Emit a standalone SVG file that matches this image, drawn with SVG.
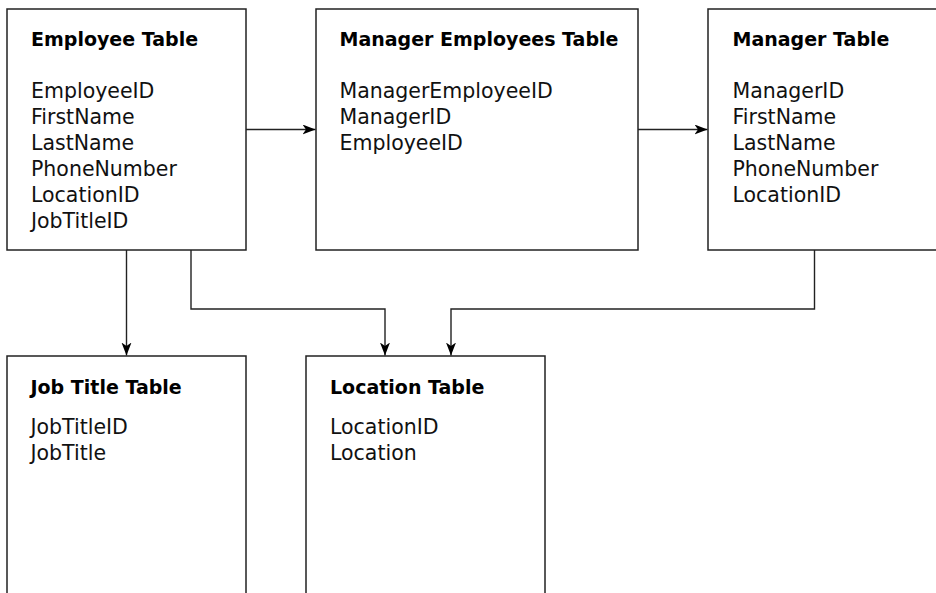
<svg xmlns="http://www.w3.org/2000/svg" width="936" height="593" viewBox="0 0 936 593">
<style>
.box{fill:#fff;stroke:#222;stroke-width:1.5}
.title{font-family:"DejaVu Sans",sans-serif;font-weight:bold;font-size:19px;fill:#000}
.field{font-family:"DejaVu Sans",sans-serif;font-size:20.5px;fill:#111}
.conn{fill:none;stroke:#222;stroke-width:1.4}
</style>
<defs>
<marker id="arr" markerUnits="userSpaceOnUse" markerWidth="14" markerHeight="12" refX="13" refY="5" orient="auto">
<path d="M0,0 L13,5 L0,10 L3.5,5 z" fill="#000"/>
</marker>
</defs>
<rect width="936" height="593" fill="#fff"/>
<g id="employee-table">
<rect class="box" x="7" y="9" width="239" height="241"/>
<text class="title" x="31" y="46">Employee Table</text>
<text class="field" x="31" y="97.5">EmployeeID</text>
<text class="field" x="31" y="123.5">FirstName</text>
<text class="field" x="31" y="149.5">LastName</text>
<text class="field" x="31" y="175.5">PhoneNumber</text>
<text class="field" x="31" y="201.5">LocationID</text>
<text class="field" x="31" y="227.5">JobTitleID</text>
</g>
<g id="manager-employees-table">
<rect class="box" x="316" y="9" width="322" height="241"/>
<text class="title" x="339.5" y="46">Manager Employees Table</text>
<text class="field" x="339.5" y="97.5">ManagerEmployeeID</text>
<text class="field" x="339.5" y="123.5">ManagerID</text>
<text class="field" x="339.5" y="149.5">EmployeeID</text>
</g>
<g id="manager-table">
<rect class="box" x="708" y="9" width="240" height="241"/>
<text class="title" x="732.5" y="46">Manager Table</text>
<text class="field" x="732.5" y="97.5">ManagerID</text>
<text class="field" x="732.5" y="123.5">FirstName</text>
<text class="field" x="732.5" y="149.5">LastName</text>
<text class="field" x="732.5" y="175.5">PhoneNumber</text>
<text class="field" x="732.5" y="201.5">LocationID</text>
</g>
<g id="job-title-table">
<rect class="box" x="7" y="356" width="239" height="250"/>
<text class="title" x="30.5" y="394">Job Title Table</text>
<text class="field" x="30.5" y="433.5">JobTitleID</text>
<text class="field" x="30.5" y="459.5">JobTitle</text>
</g>
<g id="location-table">
<rect class="box" x="306" y="356" width="239" height="250"/>
<text class="title" x="330" y="394">Location Table</text>
<text class="field" x="330" y="433.5">LocationID</text>
<text class="field" x="330" y="459.5">Location</text>
</g>
<g id="connectors">
<path class="conn" d="M246,129.5 H315.5" marker-end="url(#arr)"/>
<path class="conn" d="M638,129.5 H707.5" marker-end="url(#arr)"/>
<path class="conn" d="M126.5,250 V355.5" marker-end="url(#arr)"/>
<path class="conn" d="M191,250 V309 H385 V355.5" marker-end="url(#arr)"/>
<path class="conn" d="M814.5,250 V309 H451 V355.5" marker-end="url(#arr)"/>
</g>
</svg>
